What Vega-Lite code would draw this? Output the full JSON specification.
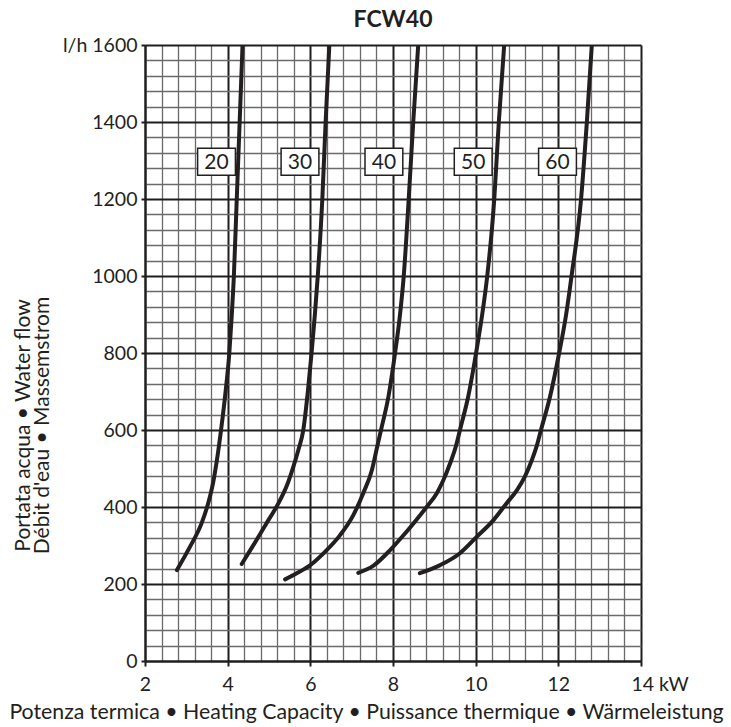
{
  "$schema": "https://vega.github.io/schema/vega-lite/v6.json",
  "width": 496,
  "height": 616,
  "autosize": "none",
  "padding": {"left": 145, "top": 45, "right": 90, "bottom": 66},
  "background": "white",
  "title": {"text": "FCW40", "font": "Lato", "fontSize": 23, "fontWeight": "bold", "color": "#231f20", "anchor": "middle", "offset": 3},
  "config": {"view": {"stroke": null}},
  "datasets": {
    "curves": [
      {"curve": "20", "kw": 2.77, "flow": 236}, {"curve": "20", "kw": 3.09, "flow": 297}, {"curve": "20", "kw": 3.37, "flow": 358}, {"curve": "20", "kw": 3.55, "flow": 418}, {"curve": "20", "kw": 3.66, "flow": 470}, {"curve": "20", "kw": 3.74, "flow": 522}, {"curve": "20", "kw": 3.84, "flow": 600}, {"curve": "20", "kw": 3.95, "flow": 700}, {"curve": "20", "kw": 4.04, "flow": 800}, {"curve": "20", "kw": 4.10, "flow": 900}, {"curve": "20", "kw": 4.15, "flow": 1000}, {"curve": "20", "kw": 4.22, "flow": 1200}, {"curve": "20", "kw": 4.29, "flow": 1400}, {"curve": "20", "kw": 4.36, "flow": 1600},
      {"curve": "30", "kw": 4.34, "flow": 252}, {"curve": "30", "kw": 4.60, "flow": 297}, {"curve": "30", "kw": 4.94, "flow": 358}, {"curve": "30", "kw": 5.22, "flow": 408}, {"curve": "30", "kw": 5.43, "flow": 455}, {"curve": "30", "kw": 5.59, "flow": 505}, {"curve": "30", "kw": 5.71, "flow": 548}, {"curve": "30", "kw": 5.83, "flow": 600}, {"curve": "30", "kw": 5.94, "flow": 700}, {"curve": "30", "kw": 6.03, "flow": 800}, {"curve": "30", "kw": 6.11, "flow": 900}, {"curve": "30", "kw": 6.18, "flow": 1000}, {"curve": "30", "kw": 6.29, "flow": 1200}, {"curve": "30", "kw": 6.37, "flow": 1400}, {"curve": "30", "kw": 6.46, "flow": 1600},
      {"curve": "40", "kw": 5.39, "flow": 212}, {"curve": "40", "kw": 5.67, "flow": 228}, {"curve": "40", "kw": 6.0, "flow": 249}, {"curve": "40", "kw": 6.36, "flow": 284}, {"curve": "40", "kw": 6.72, "flow": 327}, {"curve": "40", "kw": 7.04, "flow": 379}, {"curve": "40", "kw": 7.28, "flow": 436}, {"curve": "40", "kw": 7.49, "flow": 496}, {"curve": "40", "kw": 7.6, "flow": 548}, {"curve": "40", "kw": 7.71, "flow": 600}, {"curve": "40", "kw": 7.89, "flow": 687}, {"curve": "40", "kw": 8.05, "flow": 800}, {"curve": "40", "kw": 8.17, "flow": 900}, {"curve": "40", "kw": 8.26, "flow": 1000}, {"curve": "40", "kw": 8.38, "flow": 1200}, {"curve": "40", "kw": 8.49, "flow": 1400}, {"curve": "40", "kw": 8.61, "flow": 1600},
      {"curve": "50", "kw": 7.16, "flow": 229}, {"curve": "50", "kw": 7.52, "flow": 247}, {"curve": "50", "kw": 7.93, "flow": 288}, {"curve": "50", "kw": 8.2, "flow": 320}, {"curve": "50", "kw": 8.5, "flow": 358}, {"curve": "50", "kw": 8.82, "flow": 401}, {"curve": "50", "kw": 9.06, "flow": 436}, {"curve": "50", "kw": 9.22, "flow": 470}, {"curve": "50", "kw": 9.38, "flow": 513}, {"curve": "50", "kw": 9.52, "flow": 557}, {"curve": "50", "kw": 9.62, "flow": 600}, {"curve": "50", "kw": 9.82, "flow": 687}, {"curve": "50", "kw": 10.01, "flow": 800}, {"curve": "50", "kw": 10.15, "flow": 894}, {"curve": "50", "kw": 10.28, "flow": 1000}, {"curve": "50", "kw": 10.45, "flow": 1200}, {"curve": "50", "kw": 10.56, "flow": 1400}, {"curve": "50", "kw": 10.69, "flow": 1600},
      {"curve": "60", "kw": 8.65, "flow": 228}, {"curve": "60", "kw": 9.14, "flow": 249}, {"curve": "60", "kw": 9.62, "flow": 280}, {"curve": "60", "kw": 10.03, "flow": 323}, {"curve": "60", "kw": 10.43, "flow": 366}, {"curve": "60", "kw": 10.75, "flow": 410}, {"curve": "60", "kw": 11.0, "flow": 444}, {"curve": "60", "kw": 11.19, "flow": 479}, {"curve": "60", "kw": 11.36, "flow": 522}, {"curve": "60", "kw": 11.47, "flow": 556}, {"curve": "60", "kw": 11.58, "flow": 600}, {"curve": "60", "kw": 11.80, "flow": 687}, {"curve": "60", "kw": 12.02, "flow": 800}, {"curve": "60", "kw": 12.18, "flow": 894}, {"curve": "60", "kw": 12.32, "flow": 1000}, {"curve": "60", "kw": 12.55, "flow": 1200}, {"curve": "60", "kw": 12.69, "flow": 1400}, {"curve": "60", "kw": 12.81, "flow": 1600}
    ],
    "labels": [
      {"label": "20", "kw": 3.73, "flow": 1297},
      {"label": "30", "kw": 5.75, "flow": 1297},
      {"label": "40", "kw": 7.78, "flow": 1297},
      {"label": "50", "kw": 9.94, "flow": 1297},
      {"label": "60", "kw": 11.98, "flow": 1297}
    ]
  },
  "layer": [
    {
      "data": {"name": "curves"},
      "mark": {"type": "line", "color": "#231f20", "strokeWidth": 4, "interpolate": "monotone", "strokeCap": "round", "clip": true},
      "encoding": {
        "x": {
          "field": "kw", "type": "quantitative",
          "scale": {"domain": [2, 14], "nice": false, "zero": false},
          "axis": {
            "values": [2, 2.4, 2.8, 3.2, 3.6, 4, 4.4, 4.8, 5.2, 5.6, 6, 6.4, 6.8, 7.2, 7.6, 8, 8.4, 8.8, 9.2, 9.6, 10, 10.4, 10.8, 11.2, 11.6, 12, 12.4, 12.8, 13.2, 13.6, 14],
            "tickCount": 200,
            "grid": true,
            "gridColor": {"condition": {"test": "datum.value % 2 === 0", "value": "#1e1e1e"}, "value": "#6a6a6a"},
            "gridWidth": {"condition": {"test": "datum.value % 2 === 0", "value": 2}, "value": 1.3},
            "gridOpacity": 1,
            "domainColor": "#1e1e1e", "domainWidth": 2,
            "tickColor": "#1e1e1e", "tickWidth": 2, "tickSize": 5,
            "tickOpacity": {"condition": {"test": "datum.value % 2 === 0", "value": 1}, "value": 0},
            "labelExpr": "datum.value % 2 === 0 ? (datum.value === 14 ? '14 kW' : format(datum.value, 'd')) : ''",
            "labelOverlap": false,
            "labelFlush": false,
            "labelAlign": {"condition": {"test": "datum.value === 14", "value": "left"}, "value": "center"},
            "labelOffset": {"condition": {"test": "datum.value === 14", "value": -10}, "value": 0},
            "labelFont": "Lato", "labelFontSize": 19.5, "labelColor": "#231f20", "labelPadding": 9,
            "title": "Potenza termica • Heating Capacity • Puissance thermique • Wärmeleistung",
            "titleFont": "Lato", "titleFontSize": 21.3, "titleFontWeight": "normal", "titleColor": "#231f20", "titlePadding": 8,
            "titleX": 221
          }
        },
        "y": {
          "field": "flow", "type": "quantitative",
          "scale": {"domain": [0, 1600], "nice": false},
          "axis": {
            "values": [0, 40, 80, 120, 160, 200, 240, 280, 320, 360, 400, 440, 480, 520, 560, 600, 640, 680, 720, 760, 800, 840, 880, 920, 960, 1000, 1040, 1080, 1120, 1160, 1200, 1240, 1280, 1320, 1360, 1400, 1440, 1480, 1520, 1560, 1600],
            "tickCount": 200,
            "grid": true,
            "gridColor": {"condition": {"test": "datum.value % 200 === 0", "value": "#1e1e1e"}, "value": "#6a6a6a"},
            "gridWidth": {"condition": {"test": "datum.value % 200 === 0", "value": 2}, "value": 1.3},
            "gridOpacity": 1,
            "domainColor": "#1e1e1e", "domainWidth": 2,
            "tickColor": "#1e1e1e", "tickWidth": 2, "tickSize": 4,
            "tickOpacity": {"condition": {"test": "datum.value % 200 === 0", "value": 1}, "value": 0},
            "labelExpr": "datum.value % 200 === 0 ? (datum.value === 1600 ? 'l/h 1600' : format(datum.value, 'd')) : ''",
            "labelOverlap": false,
            "labelFlush": false,
            "labelFont": "Lato", "labelFontSize": 19.5, "labelColor": "#231f20", "labelPadding": 4,
            "title": ["Portata acqua • Water flow", "Débit d'eau • Massemstrom"],
            "titleFont": "Lato", "titleFontSize": 21, "titleFontWeight": "normal", "titleColor": "#231f20",
            "titleLineHeight": 19, "titlePadding": 10, "titleY": 380
          }
        },
        "detail": {"field": "curve"}
      }
    },
    {
      "data": {"name": "labels"},
      "mark": {"type": "point", "shape": "M-1.4,-1H1.4V1H-1.4Z", "size": 729, "filled": false, "fill": "white", "fillOpacity": 1, "stroke": "#231f20", "strokeWidth": 1.5, "opacity": 1},
      "encoding": {
        "x": {"field": "kw", "type": "quantitative"},
        "y": {"field": "flow", "type": "quantitative"}
      }
    },
    {
      "data": {"name": "labels"},
      "mark": {"type": "text", "font": "Lato", "fontSize": 21, "color": "#231f20", "align": "center", "baseline": "middle", "dy": 1},
      "encoding": {
        "x": {"field": "kw", "type": "quantitative"},
        "y": {"field": "flow", "type": "quantitative"},
        "text": {"field": "label"}
      }
    }
  ]
}
